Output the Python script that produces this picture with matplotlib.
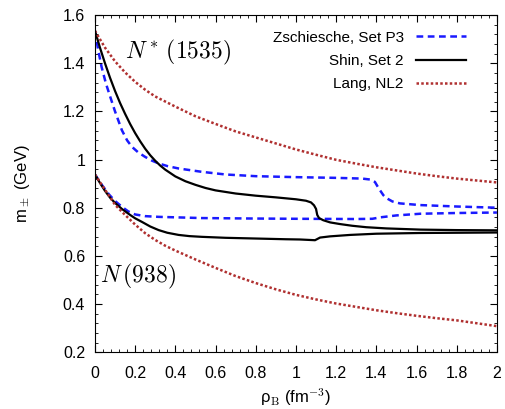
import numpy as np
import matplotlib
matplotlib.use("Agg")
import matplotlib.pyplot as plt
from matplotlib.ticker import MultipleLocator

# ========== Data ==========
# Zschiesche, Set P3 (blue dashed)
zs_up_rho = [0, 0.015, 0.033, 0.055, 0.076, 0.1, 0.134, 0.16, 0.184, 0.215, 0.25, 0.285, 0.317, 0.36,
             0.416, 0.532, 0.65, 0.8, 1.0, 1.2, 1.33, 1.37, 1.393, 1.405, 1.418, 1.435, 1.45, 1.48,
             1.517, 1.617, 1.8, 2.0]
zs_up_m = [1.535, 1.46, 1.385, 1.315, 1.261, 1.2, 1.122, 1.08, 1.053, 1.03, 1.011, 0.995, 0.984, 0.973,
           0.963, 0.949, 0.938, 0.931, 0.927, 0.924, 0.921, 0.917, 0.907, 0.89, 0.873, 0.852, 0.84, 0.826,
           0.818, 0.811, 0.805, 0.80]
zs_lo_rho = [0, 0.035, 0.07, 0.1, 0.134, 0.165, 0.2, 0.25, 0.317, 0.532, 0.8, 1.0, 1.3, 1.38, 1.42,
             1.5, 1.62, 1.8, 2.0]
zs_lo_m = [0.938, 0.894, 0.855, 0.828, 0.804, 0.785, 0.772, 0.765, 0.762, 0.757, 0.755, 0.754, 0.753,
           0.754, 0.76, 0.768, 0.775, 0.778, 0.78]

# Shin, Set 2 (black solid)
sh_up_rho = [0, 0.025, 0.05, 0.075, 0.1, 0.125, 0.15, 0.175, 0.2, 0.225, 0.25, 0.275, 0.3, 0.325, 0.35,
             0.4, 0.45, 0.5, 0.55, 0.6, 0.7, 0.8, 0.9, 1.0, 1.05, 1.075, 1.09, 1.1, 1.106, 1.115, 1.136,
             1.17, 1.22, 1.28, 1.35, 1.45, 1.62, 1.8, 2.0]
sh_up_m = [1.535, 1.465, 1.40, 1.34, 1.285, 1.235, 1.19, 1.148, 1.11, 1.076, 1.045, 1.018, 0.995, 0.975,
           0.958, 0.93, 0.91, 0.895, 0.882, 0.872, 0.859, 0.85, 0.843, 0.835, 0.829, 0.822, 0.81, 0.795,
           0.77, 0.757, 0.748, 0.739, 0.732, 0.725, 0.719, 0.714, 0.709, 0.707, 0.706]
sh_lo_rho = [0, 0.025, 0.05, 0.075, 0.1, 0.134, 0.175, 0.2, 0.234, 0.275, 0.317, 0.36, 0.416, 0.47,
             0.532, 0.65, 0.8, 0.95, 1.02, 1.095, 1.12, 1.17, 1.27, 1.4, 1.62, 2.0]
sh_lo_m = [0.938, 0.903, 0.87, 0.842, 0.82, 0.795, 0.77, 0.756, 0.741, 0.722, 0.707, 0.696, 0.687, 0.682,
           0.679, 0.675, 0.672, 0.669, 0.668, 0.665, 0.676, 0.681, 0.687, 0.692, 0.695, 0.697]

# Lang, NL2 (red dotted)
la_up_rho = [0, 0.05, 0.1, 0.15, 0.2, 0.25, 0.3, 0.4, 0.5, 0.6, 0.7, 0.8, 0.9, 1.0, 1.1, 1.2, 1.3,
             1.4, 1.5, 1.6, 1.7, 1.8, 1.9, 2.0]
la_up_m = [1.535, 1.465, 1.408, 1.362, 1.323, 1.29, 1.262, 1.22, 1.18, 1.148, 1.117, 1.092, 1.067, 1.042,
           1.02, 0.999, 0.983, 0.968, 0.955, 0.942, 0.931, 0.921, 0.913, 0.905]
la_lo_rho = [0, 0.05, 0.1, 0.15, 0.2, 0.25, 0.3, 0.35, 0.4, 0.5, 0.6, 0.7, 0.8, 0.9, 1.0, 1.1, 1.2,
             1.3, 1.4, 1.5, 1.6, 1.7, 1.8, 1.9, 2.0]
la_lo_m = [0.938, 0.875, 0.812, 0.77, 0.73, 0.694, 0.666, 0.642, 0.622, 0.585, 0.55, 0.516, 0.487, 0.461,
           0.438, 0.419, 0.402, 0.388, 0.374, 0.362, 0.351, 0.341, 0.332, 0.32, 0.308]

# ========== Plot ==========
plt.rcParams['font.family'] = ['Liberation Sans', 'DejaVu Sans']
plt.rcParams['mathtext.fontset'] = 'cm'

fig = plt.figure(figsize=(5.05, 4.09), dpi=100)
ax = fig.add_axes([0.188, 0.139, 0.796, 0.824])

blue = '#1a1aff'
red = '#b03030'
dash = (0, (2.7, 1.8))
dots = (0, (1, 0.9))

ax.plot(zs_up_rho, zs_up_m, color=blue, lw=1.8, ls=dash, label='Zschiesche, Set P3')
ax.plot(zs_lo_rho, zs_lo_m, color=blue, lw=1.8, ls=dash)
ax.plot(sh_up_rho, sh_up_m, color='black', lw=1.6, label='Shin, Set 2')
ax.plot(sh_lo_rho, sh_lo_m, color='black', lw=1.6)
ax.plot(la_up_rho, la_up_m, color=red, lw=1.8, ls=dots, label='Lang, NL2')
ax.plot(la_lo_rho, la_lo_m, color=red, lw=1.8, ls=dots)

ax.text(0.15, 1.446, r'$N^*\,(1535)$', fontsize=17, ha='left', va='center')
ax.text(0.025, 0.515, r'$N\,(938)$', fontsize=17, ha='left', va='center')

ax.set_xlim(0, 2)
ax.set_ylim(0.2, 1.6)
ax.xaxis.set_minor_locator(MultipleLocator(0.04))
ax.yaxis.set_minor_locator(MultipleLocator(0.04))
xt = np.arange(0, 2.01, 0.2)
ax.set_xticks(xt)
ax.set_xticklabels(['%g' % round(v, 1) for v in xt])
yt = np.arange(0.2, 1.61, 0.2)
ax.set_yticks(yt)
ax.set_yticklabels(['%g' % round(v, 1) for v in yt])

ax.tick_params(which='both', direction='in', top=True, right=True, labelsize=11.5)
ax.tick_params(which='major', length=5, width=0.8)
ax.tick_params(which='minor', length=2.5, width=0.6)
ax.tick_params(axis='x', pad=10)
ax.tick_params(axis='y', pad=7)

ax.set_xlabel(r'ρ$_\mathrm{B}$ (fm$^{-3}$)', fontsize=12, labelpad=4)
ax.set_ylabel(r'm$_\pm$ (GeV)', fontsize=12, labelpad=22)

ax.legend(loc='upper right', bbox_to_anchor=(0.939, 0.972), borderaxespad=0,
          frameon=False, markerfirst=False, fontsize=11,
          handlelength=3.3, labelspacing=0.6)

fig.savefig('out.png', dpi=100)
